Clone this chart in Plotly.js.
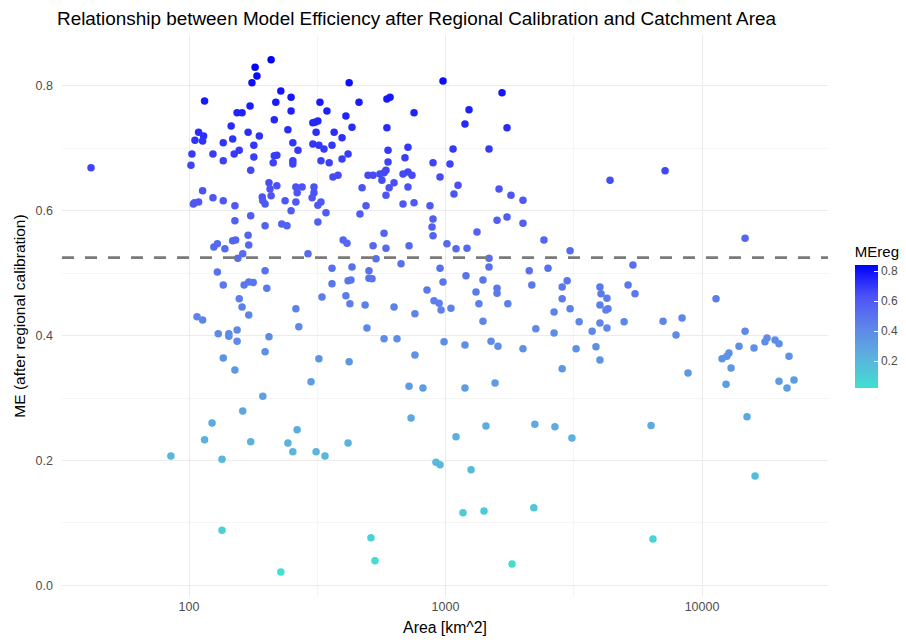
<!DOCTYPE html>
<html>
<head>
<meta charset="utf-8">
<script src="https://cdn.plot.ly/plotly-3.0.1.min.js"></script>
<style>html,body{margin:0;padding:0;background:#fff;}#chart{width:906px;height:640px;}</style>
</head>
<body>
<div id="chart"></div>
<script>
// Catchment area [km^2]
const areaKm2 = [41.5,101.8,102.7,105.5,109,114,113,115,124,136,
136,146,148,150,157,154,161,170,173,174,
176,179,179,181,184,209,104,105,109,113,
124,136,151,151,174,
421,978,228,250,218,324,460,591,608,250,
345,754,409,215,304,310,318,432,591,243,
313,368,188,395,254,266,304,321,336,361,
714,597,215,220,417,395,695,894,213,254,
254,327,352,597,586,576,555,499,522,364,
381,683,714,740,952,565,205,207,220,261,
276,307,264,307,209,193,194,198,302,630,
603,473,586,714,237,261,327,318,490,683,
754,870,250,342,464,198,230,241,318,894,
886,1661,1235,1191,1737,1070,1478,1041,1119,1079,
1617,1800,2005,4380,1588,1737,2005,1327,7180,125,
129,138,148,152,170,171,162,155,129,136,
164,171,178,157,161,171,107.5,113,130,143,
143,154,154,136,151,399,413,576,522,586,
721,894,291,536,671,361,432,198,503,503,
517,952,201,361,417,428,978,330,409,424,
486,630,847,902,944,961,261,760,268,494,
205,576,647,987,198,321,421,760,299,721,
817,194,1013,1099,1213,2420,3060,1478,1478,1202,
2120,2510,1400,1315,1588,1588,2170,2850,2980,2850,
1050,1350,1750,2650,3060,1400,2250,2650,3320,4000,
4040,4260,4000,4220,4300,4000,3730,4260,4970,5150,
5380,1191,1505,1602,2005,3230,3860,4000,2850,1560,
1191,14720,5480,11340,7050,8360,7920,14720,13940,15950,
17920,17600,19260,19960,12740,12500,11970,21840,12980,8820,
12410,19960,22840,21450,162,123,115,174,85,134.5,
134.5,264,243,254,313,339,417,734,918,952,
512,531,228,1099,1438,2230,2670,3110,1258,1170,
1413,2210,1817,6330,14980,16100,6440];

// Model efficiency after regional calibration
const meReg = [0.669,0.673,0.691,0.713,0.726,0.720,0.712,0.776,0.691,0.709,
0.680,0.736,0.715,0.691,0.697,0.757,0.757,0.726,0.768,0.665,
0.805,0.705,0.686,0.830,0.816,0.842,0.611,0.613,0.614,0.632,
0.621,0.616,0.608,0.584,0.592,
0.805,0.808,0.792,0.782,0.774,0.774,0.774,0.779,0.782,0.760,
0.760,0.757,0.752,0.746,0.741,0.742,0.744,0.734,0.733,0.730,
0.726,0.726,0.720,0.717,0.709,0.697,0.707,0.705,0.699,0.705,
0.702,0.697,0.688,0.689,0.691,0.683,0.685,0.677,0.677,0.680,
0.675,0.680,0.677,0.678,0.665,0.661,0.659,0.657,0.657,0.654,
0.657,0.659,0.662,0.657,0.654,0.649,0.645,0.635,0.640,0.638,
0.638,0.638,0.629,0.629,0.624,0.622,0.616,0.611,0.621,0.645,
0.637,0.637,0.625,0.638,0.616,0.614,0.614,0.609,0.608,0.611,
0.613,0.608,0.600,0.597,0.595,0.576,0.579,0.576,0.582,0.587,
0.574,0.789,0.762,0.739,0.733,0.699,0.699,0.675,0.641,0.627,
0.635,0.625,0.617,0.649,0.585,0.590,0.580,0.566,0.664,0.542,
0.547,0.539,0.552,0.553,0.561,0.545,0.531,0.524,0.502,0.481,
0.481,0.486,0.485,0.459,0.446,0.433,0.430,0.425,0.403,0.403,
0.399,0.409,0.391,0.364,0.345,0.553,0.548,0.564,0.544,0.540,
0.544,0.560,0.531,0.523,0.515,0.508,0.510,0.504,0.504,0.492,
0.491,0.508,0.476,0.483,0.488,0.489,0.486,0.462,0.464,0.451,
0.449,0.446,0.473,0.456,0.452,0.441,0.443,0.435,0.414,0.412,
0.398,0.395,0.395,0.390,0.374,0.363,0.358,0.369,0.326,0.319,
0.316,0.303,0.547,0.539,0.540,0.553,0.536,0.524,0.510,0.496,
0.504,0.508,0.489,0.470,0.476,0.468,0.481,0.478,0.488,0.459,
0.444,0.451,0.451,0.438,0.443,0.423,0.411,0.404,0.422,0.478,
0.467,0.460,0.449,0.441,0.443,0.420,0.407,0.412,0.422,0.481,
0.513,0.385,0.391,0.383,0.379,0.379,0.382,0.361,0.347,0.324,
0.316,0.556,0.467,0.459,0.423,0.428,0.401,0.407,0.383,0.380,
0.396,0.390,0.393,0.387,0.372,0.367,0.363,0.367,0.348,0.340,
0.322,0.327,0.329,0.316,0.279,0.260,0.233,0.230,0.207,0.202,
0.088,0.249,0.228,0.214,0.214,0.207,0.228,0.268,0.197,0.193,
0.076,0.039,0.021,0.238,0.255,0.258,0.254,0.236,0.185,0.116,
0.119,0.124,0.034,0.256,0.270,0.175,0.074];

const refLine = 0.525;          // dashed reference line
const xTickVals = [100, 1000, 10000];
const xTickText = ["100", "1000", "10000"];
const xMinorVals = [31.62, 316.2, 3162, 31623];
const yTickVals = [0, 0.2, 0.4, 0.6, 0.8];
const yMinorVals = [0.1, 0.3, 0.5, 0.7];
const cbarTicks = [0.2, 0.4, 0.6, 0.8];

const FONT = "Liberation Sans, Arial, sans-serif";

const trace = {
  type: "scatter",
  mode: "markers",
  x: areaKm2,
  y: meReg,
  marker: {
    size: 7.5,
    color: meReg,
    colorscale: [
      [0, "rgb(64,224,208)"],
      [0.25, "rgb(92,178,222)"],
      [0.5, "rgb(94,132,234)"],
      [0.75, "rgb(76,82,245)"],
      [1, "rgb(0,0,255)"]
    ],
    line: {width: 0},
    showscale: true,
    colorbar: {
      title: {text: "MEreg", side: "top", font: {size: 15, color: "#000", family: FONT}},
      thickness: 23,
      len: 145, lenmode: "pixels",
      x: 1.035, xanchor: "left", xref: "paper",
      y: 0.372, yanchor: "bottom",
      xpad: 0, ypad: 0,
      outlinewidth: 0,
      tickvals: cbarTicks,
      tickformat: ".1f",
      ticks: "inside", ticklen: 4, tickcolor: "#fff", tickwidth: 1,
      tickfont: {size: 12, color: "#4d4d4d", family: FONT}
    }
  },
  hoverinfo: "x+y",
  showlegend: false
};

const layout = {
  width: 906, height: 640,
  margin: {l: 62, r: 78, t: 35, b: 43, autoexpand: false},
  paper_bgcolor: "#fff", plot_bgcolor: "#fff",
  font: {family: FONT, color: "#4d4d4d"},
  title: {
    text: "Relationship between Model Efficiency after Regional Calibration and Catchment Area",
    font: {size: 18.9, color: "#000", family: FONT},
    x: 57/906, xanchor: "left", xref: "container",
    y: 1 - 18/640, yanchor: "middle", yref: "container"
  },
  xaxis: {
    type: "log",
    range: [1.5049, 4.4912],
    tickvals: xTickVals, ticktext: xTickText,
    tickfont: {size: 12.5, color: "#4d4d4d"},
    showgrid: true, gridcolor: "#ebebeb", gridwidth: 1,
    minor: {tickmode: "array", tickvals: xMinorVals, showgrid: true, gridcolor: "#f3f3f3", gridwidth: 0.8, ticks: ""},
    zeroline: false, showline: false, ticks: "",
    title: {text: "Area [km^2]", font: {size: 15.8, color: "#000"}, standoff: 9},
    automargin: false
  },
  yaxis: {
    range: [-0.0189, 0.8817],
    tickvals: yTickVals, tickformat: ".1f",
    tickfont: {size: 12.5, color: "#4d4d4d"},
    showgrid: true, gridcolor: "#ebebeb", gridwidth: 1,
    minor: {tickmode: "array", tickvals: yMinorVals, showgrid: true, gridcolor: "#f3f3f3", gridwidth: 0.8, ticks: ""},
    zeroline: false, showline: false, ticks: "",
    ticklabelstandoff: 8,
    title: {text: "ME (after regional calibration)", font: {size: 15.5, color: "#000"}, standoff: 6},
    automargin: false
  },
  shapes: [{
    type: "line", xref: "paper", yref: "y",
    x0: 0, x1: 1, y0: refLine, y1: refLine,
    line: {color: "#7a7a7a", width: 2.6, dash: "12px,11px"},
    layer: "above"
  }]
};

Plotly.newPlot("chart", [trace], layout, {displayModeBar: false, staticPlot: true});
</script>
</body>
</html>
